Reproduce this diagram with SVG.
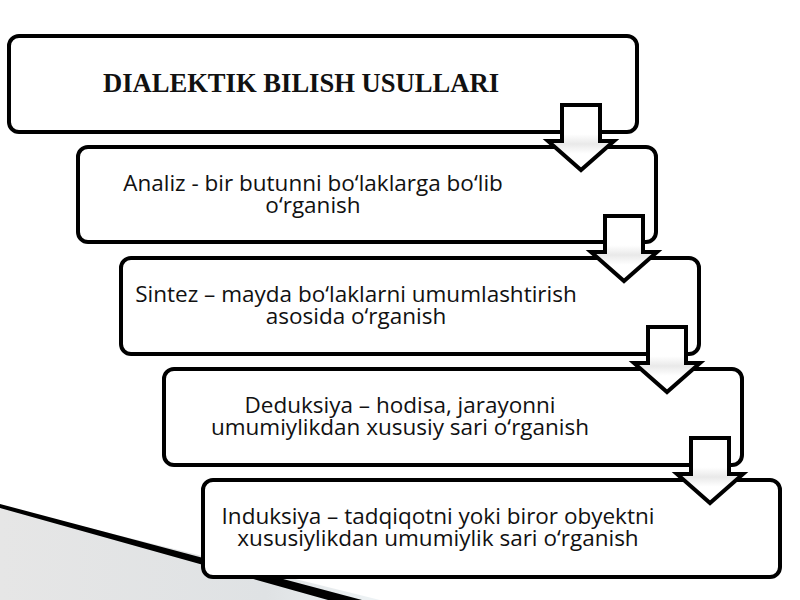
<svg xmlns="http://www.w3.org/2000/svg" width="800" height="600" viewBox="0 0 800 600">
<defs>
<linearGradient id="ag" x1="0" y1="0" x2="0" y2="1">
<stop offset="0" stop-color="#ffffff"/>
<stop offset="0.45" stop-color="#ffffff"/>
<stop offset="0.6" stop-color="#e9e9e9"/>
<stop offset="0.75" stop-color="#ffffff"/>
<stop offset="1" stop-color="#ffffff"/>
</linearGradient>
<linearGradient id="bg" x1="0" y1="0" x2="1" y2="0">
<stop offset="0" stop-color="#e6e6e6"/>
<stop offset="0.7" stop-color="#dfe2e4"/>
<stop offset="1" stop-color="#eef3f5"/>
</linearGradient>
</defs>
<style>
.box{fill:#ffffff;stroke:#000000;stroke-width:4}
.arr{fill:url(#ag);stroke:#000000;stroke-width:4;stroke-linejoin:miter}
.t{font-family:"Open Sans","Noto Sans","DejaVu Sans",sans-serif;font-size:22.5px;fill:#111111;text-anchor:middle}
.title{font-family:"Liberation Serif","Times New Roman",serif;font-size:26.6px;font-weight:bold;fill:#111111;text-anchor:middle}
</style>
<rect x="0" y="0" width="800" height="600" fill="#ffffff"/>
<g id="background">
<polygon points="0,506 380,600 0,600" fill="url(#bg)"/>
<polygon points="0,504 362,600 328,600 0,508" fill="#000000"/>
</g>
<g id="n1">
<rect class="box" x="9" y="36" width="628" height="96" rx="10"/>
<text class="title" x="301" y="92">DIALEKTIK BILISH USULLARI</text>
</g>
<g id="n2">
<rect class="box" x="78" y="147" width="578" height="95" rx="10"/>
<text class="t" x="313" y="191">Analiz - bir butunni bo‘laklarga bo‘lib</text>
<text class="t" x="313" y="213">o‘rganish</text>
</g>
<g id="n3">
<rect class="box" x="121" y="258" width="578" height="96" rx="10"/>
<text class="t" x="356" y="302">Sintez – mayda bo‘laklarni umumlashtirish</text>
<text class="t" x="356" y="324">asosida o‘rganish</text>
</g>
<g id="n4">
<rect class="box" x="164" y="369" width="578" height="96" rx="10"/>
<text class="t" x="400" y="413">Deduksiya – hodisa, jarayonni</text>
<text class="t" x="400" y="435">umumiylikdan xususiy sari o‘rganish</text>
</g>
<g id="n5">
<rect class="box" x="203" y="480" width="577" height="97" rx="10"/>
<text class="t" x="438" y="524">Induksiya – tadqiqotni yoki biror obyektni</text>
<text class="t" x="438" y="546">xususiylikdan umumiylik sari o‘rganish</text>
</g>
<g id="connectors">
<path class="arr" d="M562,105 H600 V141 H614 L581,170 L548,141 H562 Z"/>
<path class="arr" d="M605,216 H643 V252 H657 L624,281 L591,252 H605 Z"/>
<path class="arr" d="M648,327 H686 V363 H700 L667,392 L634,363 H648 Z"/>
<path class="arr" d="M691,438 H729 V474 H743 L710,503 L677,474 H691 Z"/>
</g>
</svg>
